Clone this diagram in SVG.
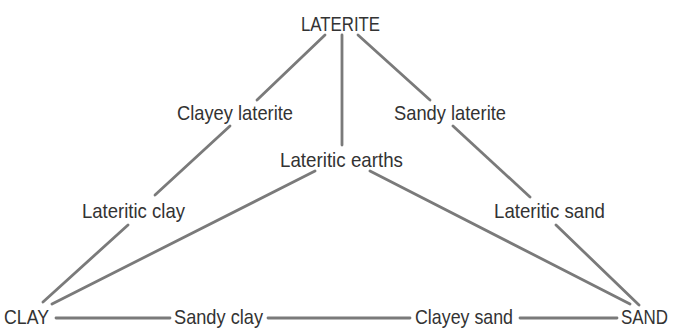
<svg xmlns="http://www.w3.org/2000/svg" width="678" height="330" viewBox="0 0 678 330">
<style>
.lbl{font-family:"Liberation Sans Narrow","Liberation Sans",Arial,sans-serif;font-size:21px;fill:#333}
.ln{stroke:#7a7a7a;stroke-width:2.8;fill:none;stroke-linecap:round}
</style>
<rect width="678" height="330" fill="#fff"/>
<g id="connectors">
<line class="ln" x1="325" y1="35" x2="257" y2="100"/>
<line class="ln" x1="230" y1="126" x2="155" y2="195"/>
<line class="ln" x1="128" y1="225" x2="43" y2="302"/>
<line class="ln" x1="342" y1="35" x2="342" y2="145"/>
<line class="ln" x1="358" y1="35" x2="430" y2="100"/>
<line class="ln" x1="453" y1="126" x2="530" y2="197"/>
<line class="ln" x1="556" y1="225" x2="639" y2="305"/>
<line class="ln" x1="315" y1="171" x2="52" y2="304"/>
<line class="ln" x1="370" y1="171" x2="630" y2="304"/>
<line class="ln" x1="56" y1="318" x2="170" y2="318"/>
<line class="ln" x1="268" y1="318" x2="410" y2="318"/>
<line class="ln" x1="520" y1="318" x2="617" y2="318"/>
</g>
<g id="laterite"><text class="lbl" x="301" y="31" textLength="79" lengthAdjust="spacingAndGlyphs">LATERITE</text></g>
<g id="clayey-laterite"><text class="lbl" x="177" y="120" textLength="116" lengthAdjust="spacingAndGlyphs">Clayey laterite</text></g>
<g id="sandy-laterite"><text class="lbl" x="394" y="120" textLength="112" lengthAdjust="spacingAndGlyphs">Sandy laterite</text></g>
<g id="lateritic-earths"><text class="lbl" x="280" y="167" textLength="123" lengthAdjust="spacingAndGlyphs">Lateritic earths</text></g>
<g id="lateritic-clay"><text class="lbl" x="82" y="218" textLength="103" lengthAdjust="spacingAndGlyphs">Lateritic clay</text></g>
<g id="lateritic-sand"><text class="lbl" x="494" y="218" textLength="111" lengthAdjust="spacingAndGlyphs">Lateritic sand</text></g>
<g id="clay"><text class="lbl" x="4" y="324" textLength="45" lengthAdjust="spacingAndGlyphs">CLAY</text></g>
<g id="sandy-clay"><text class="lbl" x="174" y="324" textLength="89" lengthAdjust="spacingAndGlyphs">Sandy clay</text></g>
<g id="clayey-sand"><text class="lbl" x="415" y="324" textLength="98" lengthAdjust="spacingAndGlyphs">Clayey sand</text></g>
<g id="sand"><text class="lbl" x="621" y="324" textLength="47" lengthAdjust="spacingAndGlyphs">SAND</text></g>
</svg>
